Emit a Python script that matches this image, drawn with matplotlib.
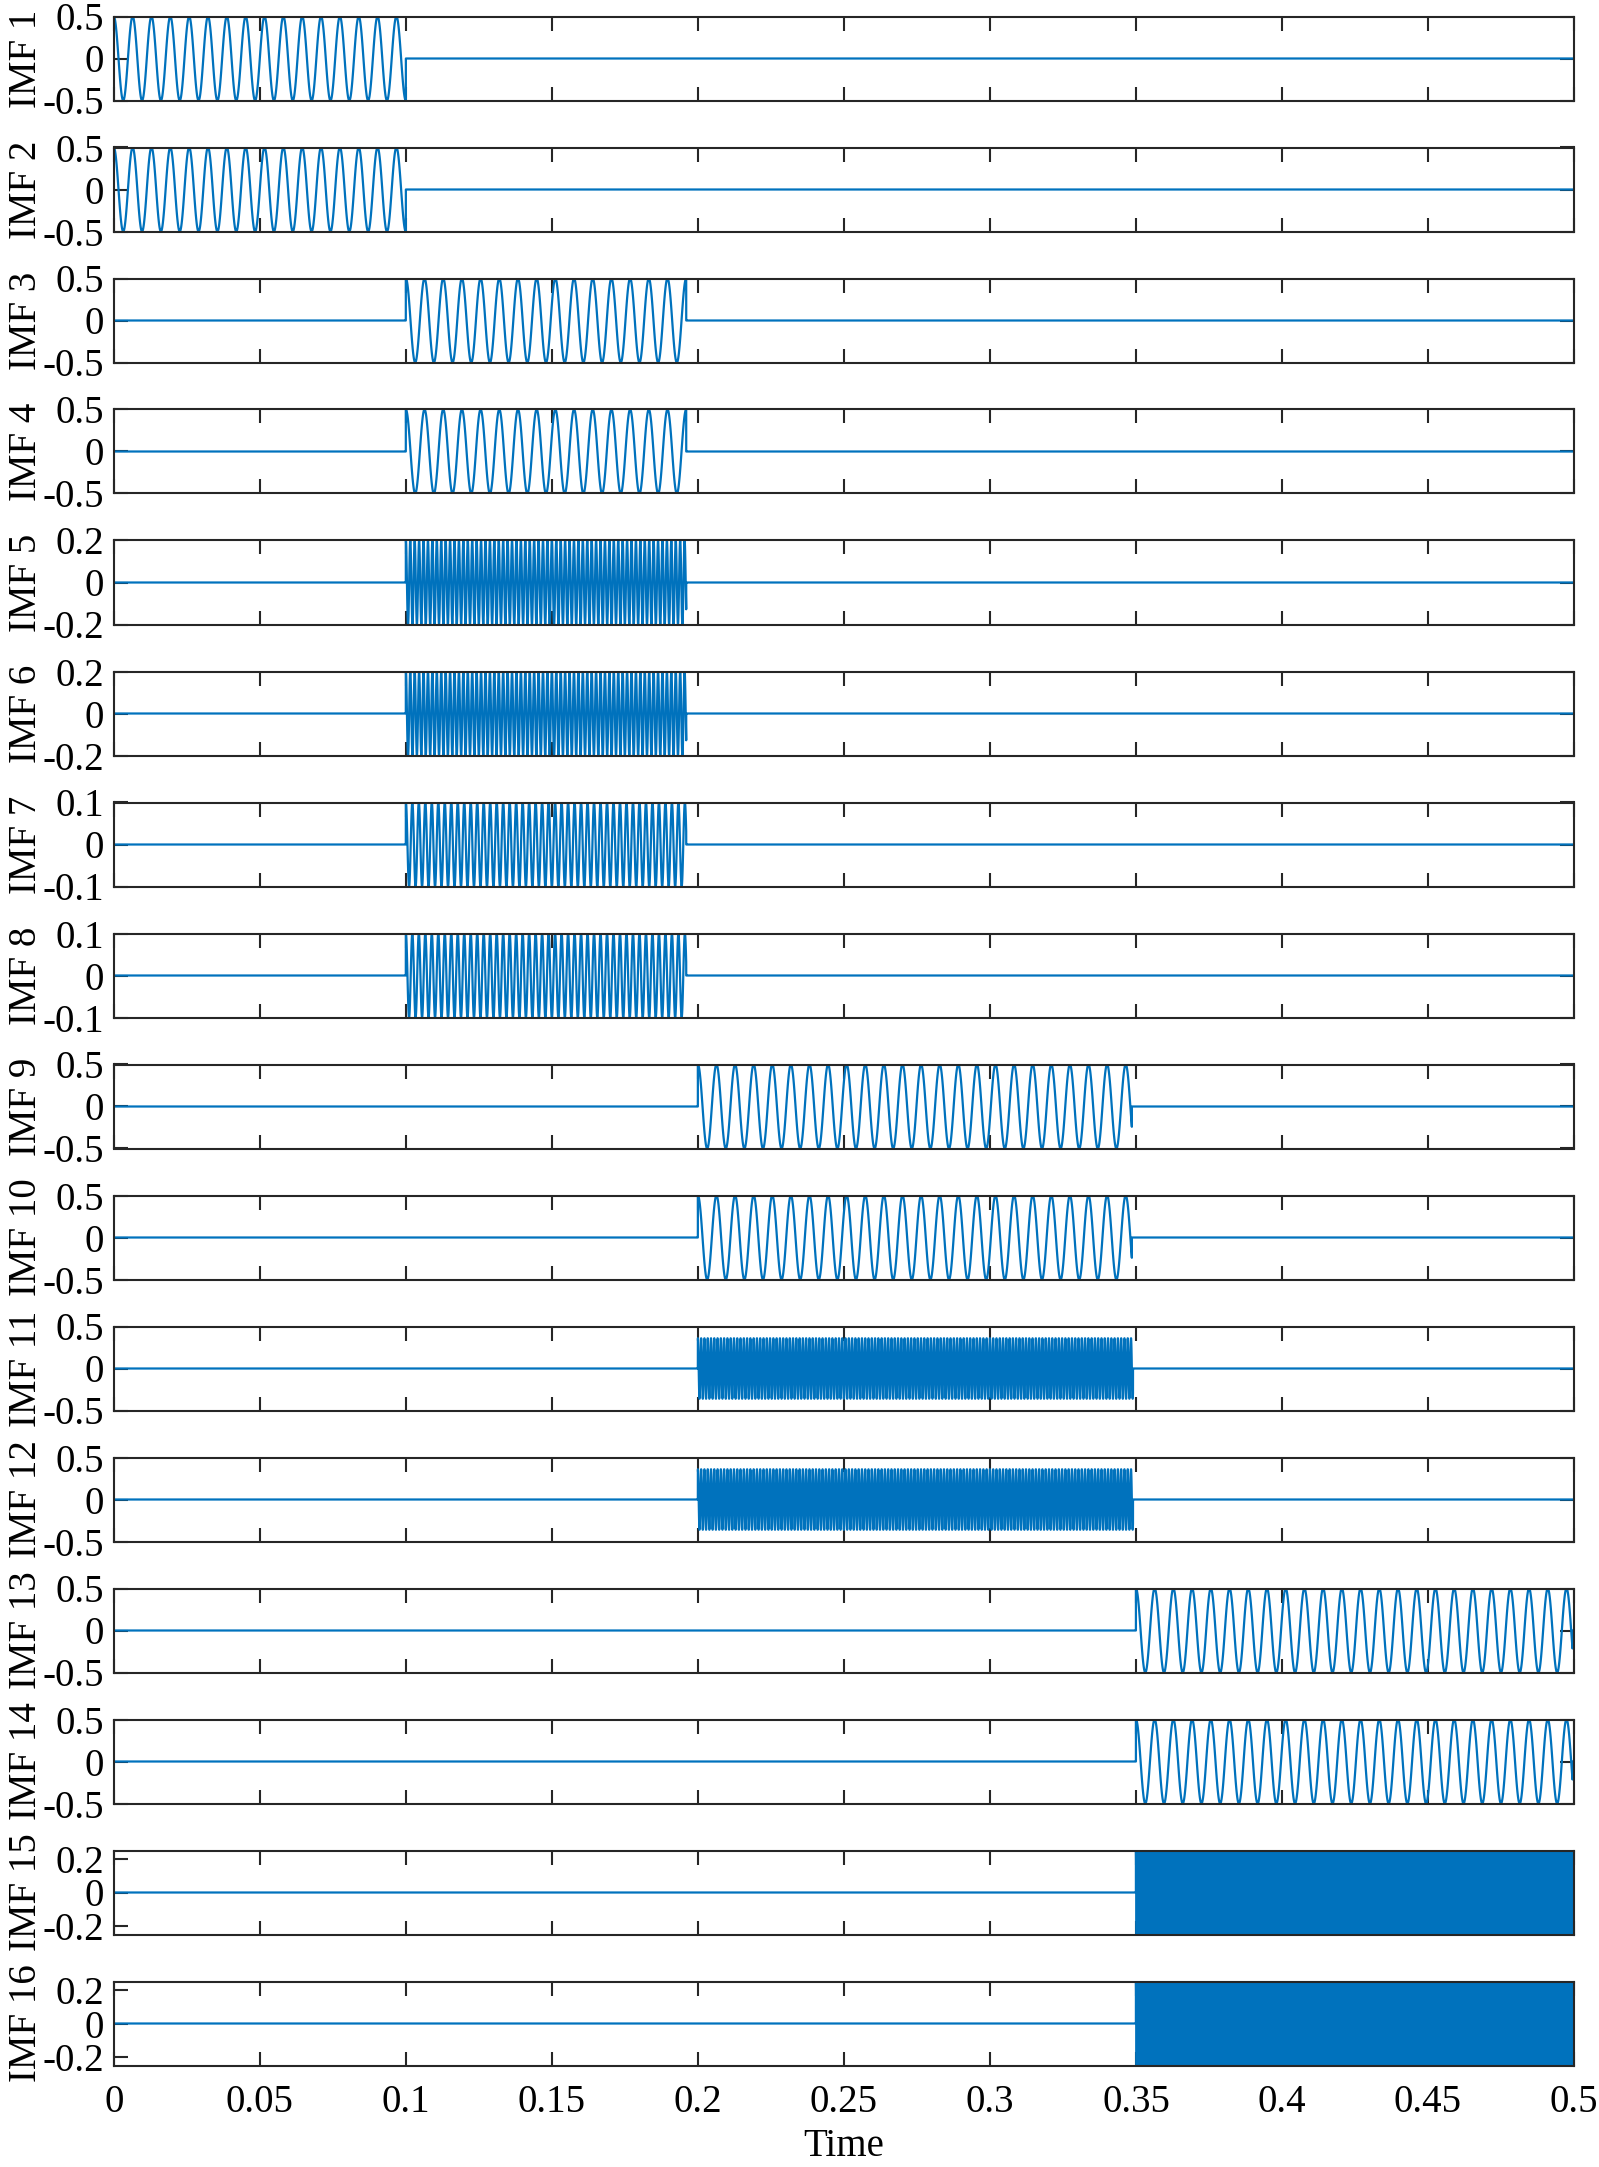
import numpy as np
import matplotlib
matplotlib.use('Agg')
import matplotlib.pyplot as plt

plt.rcParams['font.family'] = ['Liberation Serif', 'DejaVu Serif']
plt.rcParams['axes.unicode_minus'] = False
plt.rcParams['path.simplify'] = False
plt.rcParams['agg.path.chunksize'] = 20000

##############################################################################
# values
##############################################################################

imf_labels = ['IMF 1', 'IMF 2', 'IMF 3', 'IMF 4', 'IMF 5', 'IMF 6', 'IMF 7', 'IMF 8',
              'IMF 9', 'IMF 10', 'IMF 11', 'IMF 12', 'IMF 13', 'IMF 14', 'IMF 15', 'IMF 16']

# active interval of each mode (s)
seg_start = [0.0, 0.0, 0.1, 0.1, 0.1, 0.1, 0.1, 0.1,
             0.2, 0.2, 0.2, 0.2, 0.35, 0.35, 0.35, 0.35]
seg_end = [0.1, 0.1, 0.196, 0.196, 0.196, 0.196, 0.196, 0.196,
           0.3486, 0.3486, 0.349, 0.349, 0.4995, 0.4995, 0.4995, 0.4995]

# amplitude and frequency (Hz) of each oscillation
amplitude = [0.5, 0.5, 0.5, 0.5, 0.2, 0.2, 0.1, 0.1,
             0.5, 0.5, 0.36, 0.36, 0.5, 0.5, 0.25, 0.25]
freq = [155, 155, 156.25, 156.25, 660, 660, 450, 450,
        157, 157, 890, 890, 156, 156, 2000, 2000]

# y axis limits and ticks
y_lim = [0.5, 0.5, 0.5, 0.5, 0.2, 0.2, 0.1, 0.1,
         0.5, 0.5, 0.5, 0.5, 0.5, 0.5, 0.25, 0.25]
y_ticks = [[-0.5, 0, 0.5]] * 4 + [[-0.2, 0, 0.2]] * 2 + [[-0.1, 0, 0.1]] * 2 \
          + [[-0.5, 0, 0.5]] * 6 + [[-0.2, 0, 0.2]] * 2
y_ticklabels = [['-0.5', '0', '0.5']] * 4 + [['-0.2', '0', '0.2']] * 2 \
               + [['-0.1', '0', '0.1']] * 2 + [['-0.5', '0', '0.5']] * 6 \
               + [['-0.2', '0', '0.2']] * 2

x_ticks = [0, 0.05, 0.1, 0.15, 0.2, 0.25, 0.3, 0.35, 0.4, 0.45, 0.5]
x_ticklabels = ['0', '0.05', '0.1', '0.15', '0.2', '0.25', '0.3', '0.35', '0.4', '0.45', '0.5']

fs = 100000
t = np.arange(0, 0.5 + 1 / fs, 1 / fs)

##############################################################################
# figure
##############################################################################

W, H = 1599, 2167
fig = plt.figure(figsize=(W / 100, H / 100), dpi=100)

left_px, right_px = 113.8, 1574.0
top0_px, panel_h, step = 16.5, 84.0, 131.0
blue = '#0072BD'
frame = '#262626'
fsize = 28

for i, lab in enumerate(imf_labels):
    top_px = top0_px + i * step
    ax = fig.add_axes([left_px / W, 1 - (top_px + panel_h) / H,
                       (right_px - left_px) / W, panel_h / H])

    on = (t >= seg_start[i]) & (t <= seg_end[i])
    y = np.where(on, amplitude[i] * np.cos(2 * np.pi * freq[i] * (t - seg_start[i])), 0.0)
    ax.plot(t, y, color=blue, lw=1.6)

    ax.set_xlim(0, 0.5)
    ax.set_ylim(-y_lim[i], y_lim[i])
    ax.set_yticks(y_ticks[i])
    ax.set_yticklabels(y_ticklabels[i])
    ax.set_xticks(x_ticks)
    if i == len(imf_labels) - 1:
        ax.set_xticklabels(x_ticklabels)
        ax.set_xlabel('Time', fontsize=fsize, labelpad=5)
    else:
        ax.set_xticklabels([])

    ax.set_ylabel(lab, fontsize=fsize)
    ax.yaxis.set_label_coords(-0.047, 0.5)

    ax.tick_params(direction='in', length=10, width=1.5, color=frame,
                   top=True, right=True, labelsize=fsize)
    ax.tick_params(axis='y', pad=7)
    ax.tick_params(axis='x', pad=13)
    for sp in ax.spines.values():
        sp.set_color(frame)
        sp.set_linewidth(1.5)

fig.savefig('out.png', dpi=100)
